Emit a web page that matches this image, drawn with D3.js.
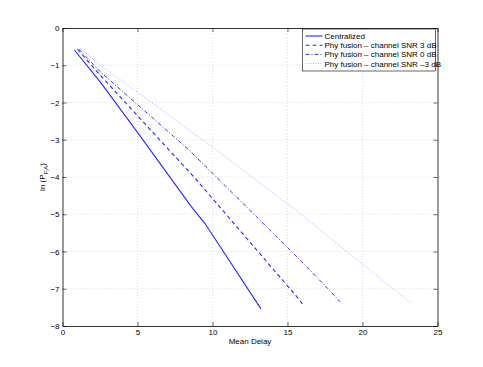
<!DOCTYPE html>
<html>
<head>
<meta charset="utf-8">
<script src="https://cdn.jsdelivr.net/npm/d3@7"></script>
<style>
  body { margin: 0; background: #fff; }
  text { font-family: "Liberation Sans", Arial, sans-serif; font-size: 8px; fill: #000; }
</style>
</head>
<body>
<svg id="chart" width="483" height="367"></svg>
<script>
'use strict';
// series: [mean delay, ln(P_FA)]
var centralized = [[0.79,-0.59],[2.5,-1.44],[5,-2.8],[8.6,-4.8],[9.5,-5.25],[13.23,-7.54]];
var snr3 = [[1.0,-0.57],[2.5,-1.26],[8.83,-4.03],[15.7,-7.25],[16.0,-7.41]];
var snr0 = [[1.1,-0.57],[2.5,-1.17],[8.45,-3.28],[15.72,-6.18],[17.7,-7.0],[18.5,-7.35]];
var snrm3 = [[1.2,-0.55],[2.5,-0.99],[10.28,-3.28],[15.8,-4.97],[21.17,-6.72],[23.2,-7.37]];

var seriesNames = ['Centralized', 'Phy fusion \u2013 channel SNR 3 dB', 'Phy fusion \u2013 channel SNR 0 dB', 'Phy fusion \u2013 channel SNR \u20133 dB'];
var xTicks = [0, 5, 10, 15, 20, 25];
var yTicks = [0, -1, -2, -3, -4, -5, -6, -7, -8];

(function draw() {
  var svg = d3.select('#chart');
  var mLeft = 62.5, mRight = 437.5, mTop = 28, mBottom = 326;

  var x = d3.scaleLinear().domain([0, 25]).range([mLeft, mRight]);
  var y = d3.scaleLinear().domain([-8, 0]).range([mBottom, mTop]);

  // grid
  var grid = svg.append('g');
  grid.selectAll('.gx').data(xTicks.slice(1, -1)).enter().append('line')
    .attr('x1', function(d){ return x(d); }).attr('x2', function(d){ return x(d); })
    .attr('y1', mTop).attr('y2', mBottom)
    .attr('stroke', '#c8c8c8').attr('stroke-width', 0.6).attr('stroke-dasharray', '1,2');
  grid.selectAll('.gy').data(yTicks.slice(1, -1)).enter().append('line')
    .attr('y1', function(d){ return y(d); }).attr('y2', function(d){ return y(d); })
    .attr('x1', mLeft).attr('x2', mRight)
    .attr('stroke', '#c8c8c8').attr('stroke-width', 0.6).attr('stroke-dasharray', '1,2');

  // axes (matlab style, ticks inside, box)
  var xAxis = d3.axisBottom(x).tickValues(xTicks).tickSizeInner(-4).tickSizeOuter(0).tickPadding(3);
  var xTop = d3.axisTop(x).tickValues(xTicks).tickSizeInner(-4).tickSizeOuter(0).tickFormat('');
  var yAxis = d3.axisLeft(y).tickValues(yTicks).tickSizeInner(-4).tickSizeOuter(0).tickPadding(3)
    .tickFormat(function(d){ return d < 0 ? '\u2212' + Math.abs(d) : d; });
  var yRight = d3.axisRight(y).tickValues(yTicks).tickSizeInner(-4).tickSizeOuter(0).tickFormat('');

  function styleAxis(g) {
    g.select('.domain').attr('stroke', '#000').attr('stroke-width', 0.8);
    g.selectAll('.tick line').attr('stroke', '#000').attr('stroke-width', 0.6);
    g.selectAll('.tick text').style('font-family', '"Liberation Sans", Arial, sans-serif').style('font-size', '8px');
  }
  svg.append('g').attr('transform', 'translate(0,' + mBottom + ')').call(xAxis).call(styleAxis);
  svg.append('g').attr('transform', 'translate(0,' + mTop + ')').call(xTop).call(styleAxis);
  svg.append('g').attr('transform', 'translate(' + mLeft + ',0)').call(yAxis).call(styleAxis);
  svg.append('g').attr('transform', 'translate(' + mRight + ',0)').call(yRight).call(styleAxis);

  // lines
  var line = d3.line().x(function(d){ return x(d[0]); }).y(function(d){ return y(d[1]); });
  var styles = [
    {data: centralized, dash: null, color: '#0000ff', w: 1.1, op: 0.85},
    {data: snr3, dash: '4,3', color: '#0000ff', w: 1.1, op: 0.85},
    {data: snr0, dash: '4,2,1,2', color: '#0000ff', w: 1.0, op: 0.8},
    {data: snrm3, dash: '1,1.5', color: '#0000ff', w: 0.7, op: 0.45}
  ];
  svg.selectAll('.series').data(styles).enter().append('path')
    .attr('d', function(d){ return line(d.data); })
    .attr('fill', 'none')
    .attr('stroke', function(d){ return d.color; })
    .attr('stroke-width', function(d){ return d.w; })
    .attr('stroke-opacity', function(d){ return d.op; })
    .attr('stroke-dasharray', function(d){ return d.dash; });

  // axis labels
  svg.append('text').attr('x', x(12.5)).attr('y', 344).attr('text-anchor', 'middle').text('Mean Delay');
  var yl = svg.append('text').attr('transform', 'translate(45,' + y(-4) + ') rotate(-90)').attr('text-anchor', 'middle');
  yl.append('tspan').text('ln (P');
  yl.append('tspan').attr('dy', 2.5).style('font-size', '6px').text('F,A');
  yl.append('tspan').attr('dy', -2.5).text(')');

  // legend
  var lg = svg.append('g').attr('transform', 'translate(302.5,29)');
  lg.append('rect').attr('width', 133).attr('height', 42).attr('fill', '#fff').attr('stroke', '#000').attr('stroke-width', 0.6);
  var items = lg.selectAll('.item').data(styles).enter().append('g')
    .attr('transform', function(d, i){ return 'translate(0,' + (7 + i * 9.2) + ')'; });
  items.append('line').attr('x1', 3).attr('x2', 20).attr('y1', 0).attr('y2', 0)
    .attr('stroke', function(d){ return d.color; })
    .attr('stroke-width', function(d){ return d.w; })
    .attr('stroke-opacity', function(d){ return d.op; })
    .attr('stroke-dasharray', function(d){ return d.dash; });
  items.append('text').attr('x', 22).attr('y', 3).text(function(d, i){ return seriesNames[i]; });
})();
</script>
</body>
</html>
